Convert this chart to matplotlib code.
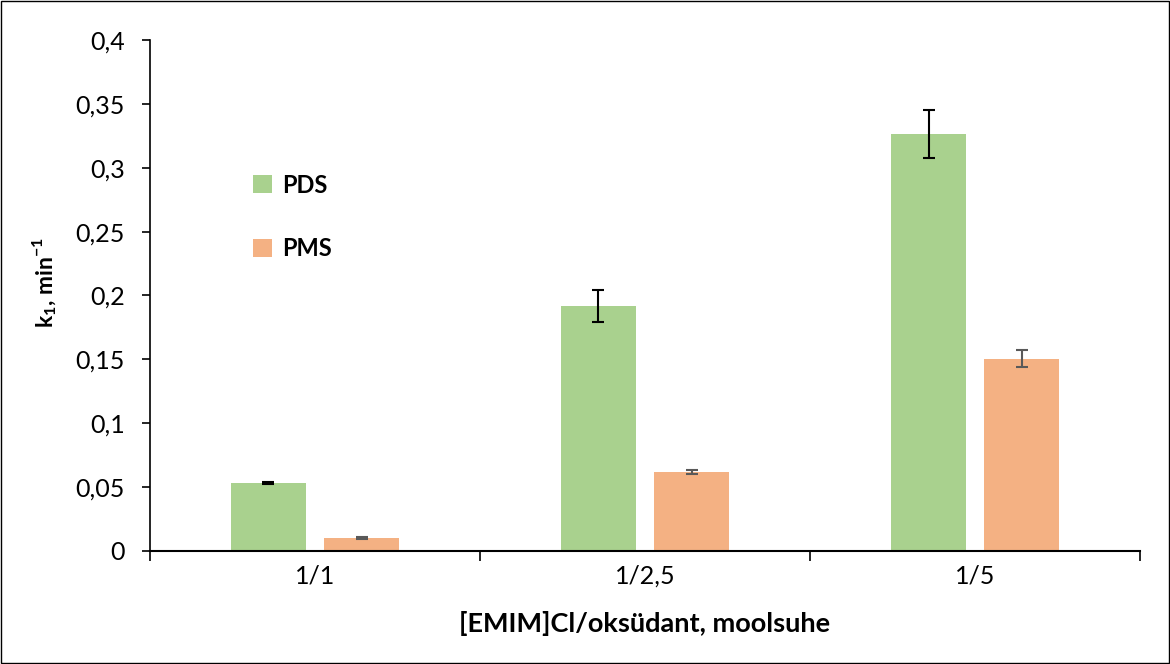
import matplotlib.pyplot as plt
import numpy as np
from matplotlib.patches import Rectangle

categories = ["1/1", "1/2,5", "1/5"]
pds = [0.0532, 0.1918, 0.3262]
pds_err = [0.0010, 0.0125, 0.0188]
pms = [0.0102, 0.0618, 0.1506]
pms_err = [0.0005, 0.0015, 0.0066]
yticks = [0, 0.05, 0.1, 0.15, 0.2, 0.25, 0.3, 0.35, 0.4]

plt.rcParams['font.family'] = ['Lato', 'DejaVu Sans']
plt.rcParams['mathtext.fontset'] = 'custom'
plt.rcParams['mathtext.rm'] = 'Lato'
plt.rcParams['mathtext.bf'] = 'Lato:bold'

fig = plt.figure(figsize=(11.7, 6.64), dpi=100)
ax = fig.add_axes([0.1282, 0.1702, 0.8462, 0.7696])

x = np.arange(len(categories))
w = 0.227
off = 0.141
ax.bar(x - off, pds, w, color="#A9D18E", label="PDS")
ax.bar(x + off, pms, w, color="#F4B183", label="PMS")
ax.errorbar(x - off, pds, yerr=pds_err, fmt="none", ecolor="black",
            elinewidth=1.5, capsize=4.5, capthick=1.5)
ax.errorbar(x + off, pms, yerr=pms_err, fmt="none", ecolor="#595959",
            elinewidth=1.5, capsize=4.5, capthick=1.5)

ax.set_xlim(-0.5, 2.5)
ax.set_ylim(0, 0.4)
ax.set_yticks(yticks)
ax.set_yticklabels([("%g" % t).replace(".", ",") for t in yticks], fontsize=18)
ax.set_xticks(x)
ax.set_xticklabels(categories, fontsize=18)
ax.tick_params(axis="x", length=0, pad=10)
ax.set_xticks([-0.5, 0.5, 1.5, 2.5], minor=True)
ax.tick_params(axis="x", which="minor", length=7, width=1.2)
ax.tick_params(axis="y", length=6, width=1.2, pad=12)

for s in ["top", "right"]:
    ax.spines[s].set_visible(False)
ax.spines["left"].set_linewidth(1.2)
ax.spines["bottom"].set_linewidth(1.5)

ax.set_ylabel(r"k$_\mathbf{1}$, min$^\mathbf{-1}$", fontsize=16.5, fontweight="bold")
ax.yaxis.set_label_coords(-0.092, 0.526)
ax.set_xlabel("[EMIM]Cl/oksüdant, moolsuhe", fontsize=19.5, fontweight="bold", labelpad=17)

leg = ax.legend(loc="upper left", bbox_to_anchor=(0.083, 0.78), frameon=False,
                prop={"size": 17, "weight": "bold"}, labelspacing=1.7,
                handlelength=0.8, handleheight=0.8, handletextpad=0.4)

fig.patches.append(Rectangle((0.001, 0.001), 0.998, 0.997, transform=fig.transFigure,
                             fill=False, edgecolor="black", linewidth=1))

plt.savefig("out.png", dpi=100)
plt.close()
